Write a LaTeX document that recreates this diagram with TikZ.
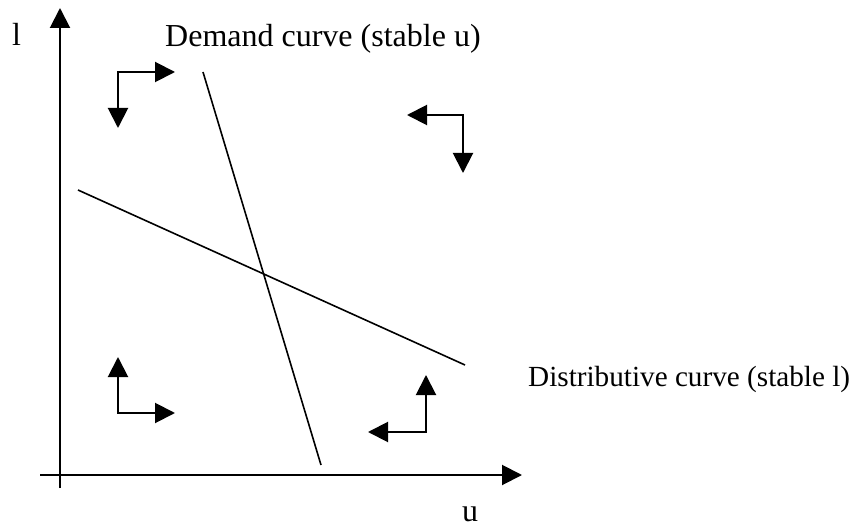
\documentclass[tikz,border=0pt]{standalone}
\usepackage{fontspec}
\setmainfont{Liberation Serif}
\usetikzlibrary{positioning,arrows.meta}

\begin{document}
\begin{tikzpicture}[x=1pt,y=-1pt,>={Triangle[length=20pt,width=20pt]},
  axis/.style={->,line width=2pt},
  curve/.style={line width=1.6pt},
  flow/.style={<->,line width=2pt},
  lbl/.style={anchor=base west,inner sep=0pt,font=\fontsize{32}{38}\selectfont}]
  \useasboundingbox (0,0) rectangle (859,529);
  % axes
  \draw[axis] (60,488) -- (60,8);
  \draw[axis] (40,475) -- (522,475);
  \node[lbl] (lab-l) at (12,46) {l};
  \node[lbl] (lab-u) at (462,521) {u};
  % curves
  \draw[curve] (203,72) -- (321,465);
  \draw[curve] (78,190) -- (465,365);
  \node[lbl] (lab-d) at (165,47) {Demand curve (stable u)};
  \node[lbl,font=\fontsize{29.2}{35}\selectfont] (lab-s) at (528,386) {Distributive curve (stable l)};
  % directions
  \draw[flow] (175,72) -- (118,72) -- (118,128);
  \draw[flow] (407,115) -- (463,115) -- (463,173);
  \draw[flow] (118,357) -- (118,413) -- (175,413);
  \draw[flow] (426,375) -- (426,432) -- (368,432);
\end{tikzpicture}
\end{document}
